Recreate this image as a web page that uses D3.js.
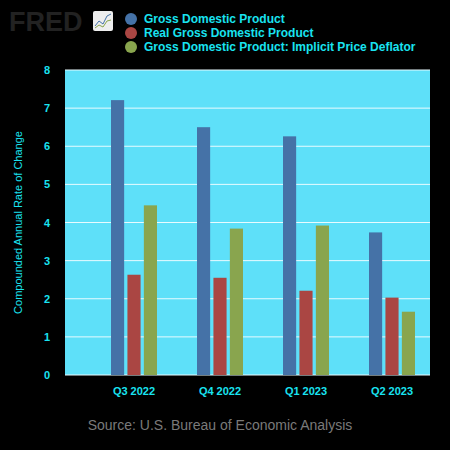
<!DOCTYPE html><html><head><script src="https://cdn.jsdelivr.net/npm/d3@7"></script>
<style>body{margin:0;background:#000}svg{display:block}</style></head><body><svg id="c" width="450" height="450"></svg>
<script>
const categories=["Q3 2022","Q4 2022","Q1 2023","Q2 2023"];
const seriesNames=["Gross Domestic Product","Real Gross Domestic Product","Gross Domestic Product: Implicit Price Deflator"];
const gdp=[7.21,6.50,6.26,3.74];
const realGdp=[2.63,2.55,2.21,2.03];
const deflator=[4.45,3.84,3.92,1.66];
const yTicks=[0,1,2,3,4,5,6,7,8];
const colors=["#4572a7","#aa4643","#89a54e"];
const svg=d3.select("#c");
const L=65,R=430,T=70,B=375;
const txt="#19e3f0";
svg.append("rect").attr("x",L).attr("y",T).attr("width",R-L).attr("height",B-T).attr("fill","#5ee0f9");
const y=d3.scaleLinear().domain([0,8]).range([B,T]);
const x=d3.scaleBand().domain(categories).range([91,435]);
const inner=d3.scaleBand().domain([0,1,2]).range([-23,23]).paddingInner(0.2);
yTicks.forEach(t=>{
  svg.append("line").attr("x1",L).attr("x2",R).attr("y1",y(t)).attr("y2",y(t)).attr("stroke","#e8fbff").attr("stroke-width",1);
  svg.append("text").attr("x",50).attr("y",y(t)+4).attr("text-anchor","end").attr("fill",txt).attr("font-family","Liberation Sans, Arial").attr("font-size",11).attr("font-weight","bold").text(t);
});
[gdp,realGdp,deflator].forEach((s,i)=>{
  svg.selectAll(null).data(s).enter().append("rect")
   .attr("x",(d,j)=>x(categories[j])+x.bandwidth()/2+inner(i))
   .attr("width",inner.bandwidth()).attr("y",d=>y(d)).attr("height",d=>B-y(d)).attr("fill",colors[i]);
});
categories.forEach(c=>svg.append("text").attr("x",x(c)+x.bandwidth()/2).attr("y",395).attr("text-anchor","middle").attr("fill",txt).attr("font-family","Liberation Sans, Arial").attr("font-size",11).attr("font-weight","bold").text(c));
svg.append("text").attr("transform",`translate(22,${(T+B)/2}) rotate(-90)`).attr("text-anchor","middle").attr("fill",txt).attr("font-family","Liberation Sans, Arial").attr("font-size",11).text("Compounded Annual Rate of Change");
svg.append("text").attr("x",220).attr("y",430).attr("text-anchor","middle").attr("fill","#7a7a7a").attr("font-family","Liberation Sans, Arial").attr("font-size",14).text("Source: U.S. Bureau of Economic Analysis");
seriesNames.forEach((n,i)=>{
  svg.append("circle").attr("cx",131).attr("cy",19+i*14).attr("r",6).attr("fill",colors[i]);
  svg.append("text").attr("x",144).attr("y",23+i*14).attr("fill",txt).attr("font-family","Liberation Sans, Arial").attr("font-size",12).attr("font-weight","bold").text(n);
});
svg.append("text").attr("x",9).attr("y",31).attr("fill","#222").attr("font-family","Liberation Sans, Arial").attr("font-size",27).attr("font-weight","bold").text("FRED");
svg.append("rect").attr("x",93).attr("y",11).attr("width",20).attr("height",20).attr("rx",2).attr("fill","#eee");
svg.append("polyline").attr("points","95,26 99,21 103,24 107,16 111,14").attr("fill","none").attr("stroke","#4572a7").attr("stroke-width",1);
svg.append("polyline").attr("points","95,28 99,25 103,27 107,21 111,20").attr("fill","none").attr("stroke","#89a54e").attr("stroke-width",1);
</script></body></html>
